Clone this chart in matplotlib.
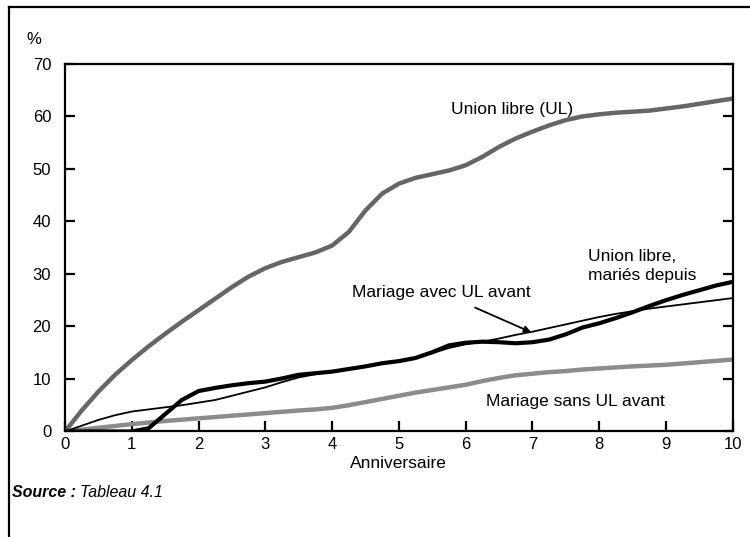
import numpy as np
import matplotlib
matplotlib.use("Agg")
import matplotlib.pyplot as plt
from matplotlib.lines import Line2D

# years since start of union (anniversaire), read every quarter year
years = [0, 0.25, 0.5, 0.75, 1, 1.25, 1.5, 1.75, 2, 2.25, 2.5, 2.75, 3, 3.25, 3.5,
         3.75, 4, 4.25, 4.5, 4.75, 5, 5.25, 5.5, 5.75, 6, 6.25, 6.5, 6.75, 7,
         7.25, 7.5, 7.75, 8, 8.25, 8.5, 8.75, 9, 9.25, 9.5, 9.75, 10]

union_libre = [0, 4.0, 7.6, 10.8, 13.6, 16.2, 18.6, 20.9, 23.1, 25.3, 27.5, 29.5,
               31.1, 32.3, 33.2, 34.1, 35.4, 38.0, 42.1, 45.3, 47.2, 48.3, 49.0,
               49.7, 50.7, 52.3, 54.2, 55.8, 57.1, 58.3, 59.3, 60.0, 60.4, 60.7,
               60.9, 61.1, 61.5, 61.9, 62.4, 62.9, 63.4]
mariage_sans_ul = [0, 0.35, 0.7, 1.05, 1.4, 1.7, 2.0, 2.25, 2.5, 2.75, 3.0, 3.25,
                   3.5, 3.75, 4.0, 4.2, 4.5, 5.0, 5.6, 6.2, 6.8, 7.4, 7.9, 8.4,
                   8.9, 9.6, 10.2, 10.7, 11.0, 11.3, 11.5, 11.8, 12.0, 12.2, 12.4,
                   12.55, 12.7, 12.95, 13.2, 13.45, 13.7]
mariage_avec_ul = [0, 1.1, 2.2, 3.1, 3.8, 4.2, 4.6, 5.0, 5.5, 6.0, 6.8, 7.6, 8.4,
                   9.4, 10.3, 10.9, 11.4, 11.9, 12.4, 12.9, 13.3, 13.9, 14.9, 15.9,
                   16.6, 17.1, 17.7, 18.4, 19.0, 19.7, 20.4, 21.1, 21.8, 22.4, 22.9,
                   23.4, 23.8, 24.2, 24.6, 25.0, 25.4]
ul_maries = [0, 0, 0, 0, 0, 0.6, 3.3, 6.0, 7.7, 8.3, 8.8, 9.2, 9.5, 10.1, 10.8,
             11.1, 11.4, 11.9, 12.4, 13.0, 13.4, 14.0, 15.1, 16.4, 16.9, 17.1,
             17.0, 16.8, 17.0, 17.5, 18.5, 19.8, 20.6, 21.6, 22.7, 23.9, 25.0,
             26.0, 26.9, 27.8, 28.5]

plt.rcParams['font.family'] = ['Liberation Sans', 'DejaVu Sans']

fig = plt.figure(figsize=(7.5, 5.37), dpi=100)
ax = fig.add_axes([0.0867, 0.1965, 0.8903, 0.6845])

ax.plot(years, union_libre, color='#666666', lw=3.2, solid_capstyle='round')
ax.plot(years, mariage_sans_ul, color='#8c8c8c', lw=3.2, solid_capstyle='round')
ax.plot(years, mariage_avec_ul, color='black', lw=1.3)
ax.plot(years, ul_maries, color='black', lw=3.0)

ax.set_xlim(0, 10)
ax.set_ylim(0, 70)
ax.set_xticks(range(0, 11))
ax.set_yticks(range(0, 71, 10))
for s in ax.spines.values():
    s.set_linewidth(1.6)
ax.tick_params(direction='in', length=7, width=1.6, right=True, labelsize=12)
ax.tick_params(axis='y', pad=10)
ax.tick_params(axis='x', pad=4)

ax.set_xlabel('Anniversaire', fontsize=12.5, labelpad=3)
fig.text(0.045, 0.927, '%', fontsize=12, ha='center', va='center')

ax.text(6.70, 61.4, 'Union libre (UL)', fontsize=12.5, ha='center', va='center')
ax.text(7.83, 31.5, 'Union libre,\nmariés depuis', fontsize=12.5, ha='left',
        va='center', linespacing=1.35)
ax.text(7.65, 5.8, 'Mariage sans UL avant', fontsize=12.5, ha='center', va='center')
ax.annotate('Mariage avec UL avant', xy=(6.98, 18.9), xytext=(5.64, 26.4),
            fontsize=12.5, ha='center', va='center',
            arrowprops=dict(arrowstyle='-|>', color='black', lw=1.3,
                            shrinkA=8, shrinkB=0, mutation_scale=10))

# source line: bold italic label followed by italic reference
src = fig.text(0.016, 0.082, 'Source :', fontsize=11.5, fontweight='bold',
               style='italic', va='center')
fig.canvas.draw()
bb = src.get_window_extent()
fig.text((bb.x1 + 4) / fig.bbox.width, 0.082, 'Tableau 4.1', fontsize=11.5,
         style='italic', va='center')

# outer frame of the figure box
fig.add_artist(Line2D([0.012, 0.012], [0.0, 0.987], color='black', lw=1.6))
fig.add_artist(Line2D([0.012, 1.0], [0.987, 0.987], color='black', lw=1.6))

fig.savefig('out.png', dpi=100)
